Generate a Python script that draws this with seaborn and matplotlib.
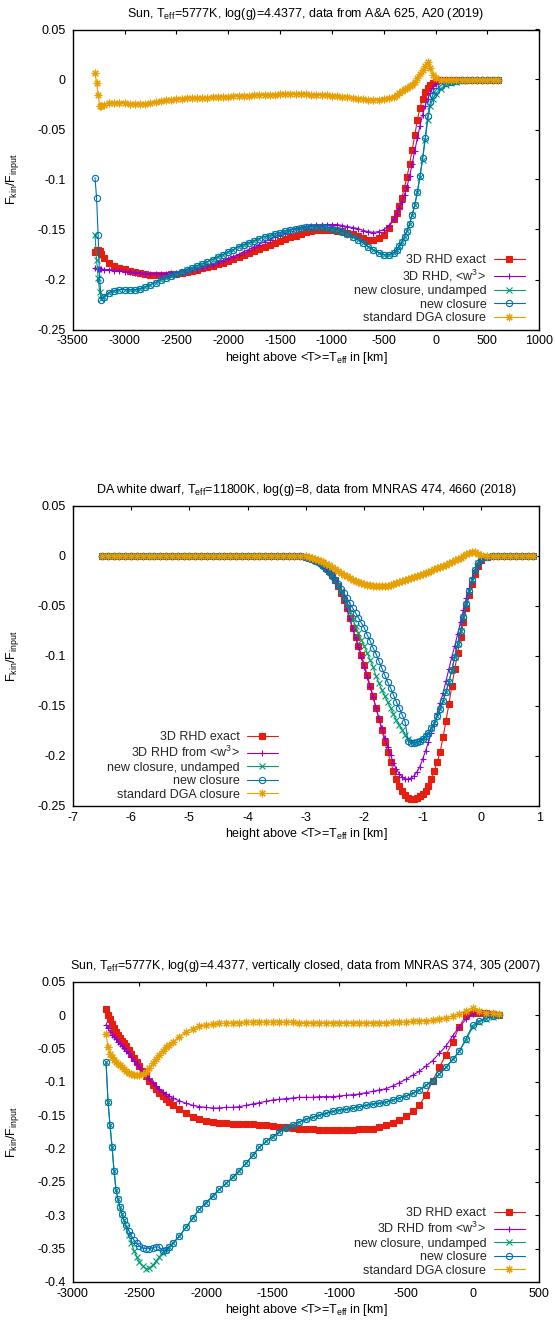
import matplotlib
matplotlib.use("Agg")
import matplotlib.pyplot as plt
import seaborn as sns
from matplotlib.ticker import FuncFormatter, MultipleLocator

# ---------------- Panel 1: Sun, A&A 625, A20 (2019) ----------------
x1 = [-3285, -3270, -3255, -3240, -3225,
      -3200, -3150, -3100, -3050, -3000, -2950, -2900, -2850, -2800, -2750,
      -2700, -2650, -2600, -2550, -2500, -2450, -2400, -2350, -2300, -2250,
      -2200, -2150, -2100, -2050, -2000, -1950, -1900, -1850, -1800, -1750,
      -1700, -1650, -1600, -1550, -1500, -1450, -1400, -1350, -1300, -1250,
      -1200, -1150, -1100, -1050, -1000, -950, -900, -850, -800, -750,
      -700, -650, -600, -550, -500, -450, -400,
      -375, -350, -325, -300, -275, -250, -225, -200, -175, -150, -125, -100, -75, -50, -25,
      0, 50, 100, 150, 200, 250, 300, 350, 400, 450, 500, 550, 600]
exact1 = [-0.172, -0.170, -0.170, -0.171, -0.174,
          -0.178, -0.183, -0.186, -0.188, -0.189, -0.191, -0.192, -0.193, -0.194, -0.195,
          -0.195, -0.195, -0.195, -0.194, -0.194, -0.193, -0.192, -0.191, -0.190, -0.188,
          -0.187, -0.186, -0.184, -0.183, -0.181, -0.179, -0.177, -0.175, -0.173, -0.171,
          -0.169, -0.167, -0.165, -0.163, -0.161, -0.159, -0.157, -0.156, -0.154, -0.152,
          -0.151, -0.150, -0.150, -0.150, -0.150, -0.151, -0.151, -0.153, -0.154, -0.156,
          -0.158, -0.160, -0.160, -0.158, -0.155, -0.148, -0.139,
          -0.133, -0.126, -0.118, -0.108, -0.097, -0.084, -0.070, -0.055, -0.040, -0.028, -0.019, -0.012, -0.008, -0.005, -0.003,
          -0.001, 0, 0, 0, 0, 0, 0, 0, 0, 0, 0, 0, 0]
w3_1 = [-0.188, -0.189, -0.189, -0.189, -0.189,
        -0.190, -0.190, -0.191, -0.191, -0.192, -0.192, -0.193, -0.193, -0.194, -0.194,
        -0.194, -0.194, -0.194, -0.193, -0.193, -0.192, -0.191, -0.190, -0.189, -0.188,
        -0.186, -0.185, -0.183, -0.181, -0.179, -0.177, -0.175, -0.172, -0.170, -0.167,
        -0.165, -0.162, -0.160, -0.157, -0.155, -0.153, -0.151, -0.149, -0.148, -0.147,
        -0.146, -0.145, -0.145, -0.145, -0.145, -0.145, -0.146, -0.147, -0.148, -0.149,
        -0.151, -0.152, -0.153, -0.152, -0.150, -0.146, -0.139,
        -0.134, -0.128, -0.122, -0.115, -0.107, -0.096, -0.084, -0.071, -0.058, -0.046, -0.035, -0.026, -0.019, -0.013, -0.008,
        -0.004, -0.001, 0, 0, 0, 0, 0, 0, 0, 0, 0, 0, 0]
undamped1 = [-0.155, -0.180, -0.198, -0.212, -0.219,
             -0.217, -0.213, -0.211, -0.210, -0.210, -0.210, -0.210, -0.209, -0.207, -0.205,
             -0.203, -0.200, -0.198, -0.196, -0.194, -0.192, -0.190, -0.188, -0.186, -0.184,
             -0.182, -0.180, -0.177, -0.175, -0.172, -0.170, -0.167, -0.165, -0.163, -0.161,
             -0.159, -0.157, -0.156, -0.154, -0.153, -0.151, -0.150, -0.149, -0.148, -0.147,
             -0.147, -0.147, -0.147, -0.148, -0.149, -0.150, -0.152, -0.154, -0.157, -0.160,
             -0.163, -0.167, -0.170, -0.173, -0.175, -0.175, -0.173,
             -0.170, -0.166, -0.162, -0.157, -0.151, -0.144, -0.135, -0.125, -0.112, -0.097, -0.080, -0.060, -0.040, -0.026, -0.019,
             -0.014, -0.009, -0.005, -0.003, -0.002, -0.001, 0, 0, 0, 0, 0, 0, 0]
newc1 = [-0.098, -0.118, -0.155, -0.200, -0.220,
         -0.217, -0.213, -0.211, -0.210, -0.210, -0.210, -0.210, -0.209, -0.207, -0.205,
         -0.203, -0.200, -0.198, -0.196, -0.194, -0.192, -0.190, -0.188, -0.186, -0.184,
         -0.182, -0.180, -0.177, -0.175, -0.172, -0.170, -0.167, -0.165, -0.163, -0.161,
         -0.159, -0.157, -0.156, -0.154, -0.153, -0.151, -0.150, -0.149, -0.148, -0.147,
         -0.147, -0.147, -0.147, -0.148, -0.149, -0.150, -0.152, -0.154, -0.157, -0.160,
         -0.163, -0.167, -0.170, -0.173, -0.175, -0.175, -0.173,
         -0.170, -0.166, -0.162, -0.157, -0.151, -0.144, -0.135, -0.125, -0.112, -0.096, -0.078, -0.058, -0.036, -0.022, -0.015,
         -0.011, -0.006, -0.003, -0.002, -0.001, 0, 0, 0, 0, 0, 0, 0, 0]
dga1 = [0.007, -0.003, -0.015, -0.026, -0.026,
        -0.025, -0.023, -0.023, -0.023, -0.023, -0.024, -0.024, -0.024, -0.024, -0.023,
        -0.022, -0.021, -0.020, -0.020, -0.019, -0.019, -0.018, -0.018, -0.018, -0.018,
        -0.018, -0.017, -0.017, -0.017, -0.017, -0.016, -0.016, -0.016, -0.016, -0.015,
        -0.015, -0.015, -0.015, -0.015, -0.014, -0.014, -0.014, -0.014, -0.014, -0.014,
        -0.015, -0.015, -0.015, -0.015, -0.016, -0.016, -0.017, -0.017, -0.018, -0.019,
        -0.019, -0.020, -0.020, -0.020, -0.019, -0.018, -0.017,
        -0.015, -0.013, -0.011, -0.009, -0.008, -0.006, -0.005, -0.002, 0.002, 0.006, 0.010, 0.014, 0.018, 0.012, 0.005,
        0.002, 0, 0, 0, 0, 0, 0, 0, 0, 0, 0, 0, 0]

# ---------------- Panel 2: DA white dwarf, MNRAS 474, 4660 (2018) ----------------
x2_flat = [-6.5, -6.4, -6.3, -6.2, -6.1, -6.0, -5.9, -5.8, -5.7, -5.6,
           -5.5, -5.4, -5.3, -5.2, -5.1, -5.0, -4.9, -4.8, -4.7, -4.6,
           -4.5, -4.4, -4.3, -4.2, -4.1, -4.0, -3.9, -3.8, -3.7, -3.6,
           -3.5, -3.4, -3.3, -3.2, -3.1]
y2_flat = [0, 0, 0, 0, 0, 0, 0, 0, 0, 0,
           0, 0, 0, 0, 0, 0, 0, 0, 0, 0,
           0, 0, 0, 0, 0, 0, 0, 0, 0, 0,
           0, 0, 0, 0, 0]
x2_dip = [-3.00, -2.95, -2.90, -2.85, -2.80, -2.75, -2.70, -2.65, -2.60, -2.55,
          -2.50, -2.45, -2.40, -2.35, -2.30, -2.25, -2.20, -2.15, -2.10, -2.05,
          -2.00, -1.95, -1.90, -1.85, -1.80, -1.75, -1.70, -1.65, -1.60, -1.55,
          -1.50, -1.45, -1.40, -1.35, -1.30, -1.25, -1.20, -1.15, -1.10, -1.05,
          -1.00, -0.95, -0.90, -0.85, -0.80, -0.75, -0.70, -0.65, -0.60, -0.55,
          -0.50, -0.45, -0.40, -0.35, -0.30, -0.25, -0.20, -0.15, -0.10, -0.05,
          0.00]
x2_tail = [0.1, 0.2, 0.3, 0.4, 0.5, 0.6, 0.7, 0.8, 0.9]
exact2_dip = [-0.001, -0.002, -0.003, -0.004, -0.005, -0.007, -0.009, -0.012, -0.015, -0.019,
              -0.024, -0.030, -0.037, -0.044, -0.052, -0.062, -0.072, -0.081, -0.090, -0.099,
              -0.109, -0.119, -0.130, -0.140, -0.152, -0.163, -0.174, -0.186, -0.196, -0.206,
              -0.215, -0.223, -0.230, -0.235, -0.239, -0.242, -0.243, -0.243, -0.242, -0.240,
              -0.238, -0.235, -0.230, -0.223, -0.215, -0.206, -0.196, -0.181, -0.165, -0.148,
              -0.130, -0.113, -0.097, -0.081, -0.066, -0.052, -0.039, -0.028, -0.018, -0.010,
              -0.004]
exact2_tail = [-0.001, 0, 0, 0, 0, 0, 0, 0, 0]
w3_2_dip = [-0.001, -0.002, -0.003, -0.004, -0.005, -0.007, -0.009, -0.012, -0.015, -0.019,
            -0.024, -0.030, -0.037, -0.045, -0.053, -0.063, -0.073, -0.082, -0.091, -0.101,
            -0.111, -0.121, -0.131, -0.141, -0.152, -0.162, -0.172, -0.182, -0.191, -0.199,
            -0.207, -0.213, -0.218, -0.221, -0.223, -0.223, -0.222, -0.220, -0.216, -0.211,
            -0.203, -0.195, -0.186, -0.177, -0.168, -0.157, -0.147, -0.137, -0.125, -0.113,
            -0.101, -0.090, -0.078, -0.066, -0.054, -0.042, -0.032, -0.022, -0.014, -0.008,
            -0.003]
w3_2_tail = [0, 0, 0, 0, 0, 0, 0, 0, 0]
undamped2_dip = [-0.001, -0.002, -0.003, -0.004, -0.005, -0.007, -0.009, -0.012, -0.015, -0.019,
                 -0.024, -0.029, -0.035, -0.042, -0.049, -0.056, -0.063, -0.070, -0.077, -0.084,
                 -0.090, -0.097, -0.104, -0.111, -0.120, -0.127, -0.134, -0.140, -0.146, -0.152,
                 -0.158, -0.164, -0.169, -0.174, -0.179, -0.183, -0.186, -0.187, -0.186, -0.185,
                 -0.183, -0.180, -0.177, -0.172, -0.167, -0.160, -0.153, -0.145, -0.136, -0.126,
                 -0.114, -0.101, -0.088, -0.075, -0.061, -0.048, -0.035, -0.024, -0.014, -0.007,
                 -0.003]
undamped2_tail = [-0.001, 0, 0, 0, 0, 0, 0, 0, 0]
newc2_dip = [-0.001, -0.002, -0.003, -0.005, -0.006, -0.008, -0.010, -0.013, -0.016, -0.020,
             -0.024, -0.028, -0.033, -0.037, -0.042, -0.047, -0.052, -0.057, -0.062, -0.067,
             -0.072, -0.079, -0.085, -0.092, -0.098, -0.105, -0.112, -0.119, -0.126, -0.132,
             -0.139, -0.146, -0.152, -0.159, -0.166, -0.185, -0.187, -0.187, -0.186, -0.185,
             -0.183, -0.180, -0.177, -0.172, -0.167, -0.160, -0.153, -0.145, -0.136, -0.126,
             -0.114, -0.101, -0.088, -0.075, -0.061, -0.048, -0.035, -0.024, -0.014, -0.007,
             -0.003]
newc2_tail = [-0.001, 0, 0, 0, 0, 0, 0, 0, 0]
dga2_dip = [0.000, -0.001, -0.002, -0.003, -0.004, -0.005, -0.006, -0.008, -0.009, -0.011,
            -0.013, -0.015, -0.017, -0.019, -0.020, -0.022, -0.024, -0.025, -0.026, -0.027,
            -0.028, -0.029, -0.029, -0.030, -0.030, -0.030, -0.030, -0.030, -0.030, -0.029,
            -0.028, -0.027, -0.026, -0.025, -0.024, -0.023, -0.022, -0.021, -0.020, -0.019,
            -0.018, -0.017, -0.016, -0.015, -0.013, -0.012, -0.011, -0.010, -0.009, -0.007,
            -0.006, -0.004, -0.003, -0.002, 0.000, 0.002, 0.003, 0.004, 0.004, 0.002,
            0.001]
dga2_tail = [0, 0, 0, 0, 0, 0, 0, 0, 0]

# ---------------- Panel 3: Sun, vertically closed, MNRAS 374, 305 (2007) ----------------
x3 = [-2750, -2735, -2720, -2705, -2690, -2675, -2660, -2645, -2630, -2615, -2600,
      -2580, -2560, -2540, -2520, -2500,
      -2475, -2450, -2425, -2400, -2375, -2350, -2325, -2300, -2275, -2250,
      -2200, -2150, -2100, -2050, -2000, -1950, -1900, -1850, -1800, -1750,
      -1700, -1650, -1600, -1550, -1500, -1450, -1400, -1350, -1300, -1250,
      -1200, -1150, -1100, -1050, -1000, -950, -900, -850, -800, -750,
      -700, -650, -600, -550, -500, -450, -400, -350, -300, -250,
      -200, -150, -100, -50, 0, 50, 100, 150, 200]
exact3 = [0.009, 0.001, -0.006, -0.013, -0.019, -0.025, -0.030, -0.034, -0.038, -0.042, -0.046,
          -0.052, -0.058, -0.064, -0.070, -0.076,
          -0.083, -0.091, -0.098, -0.105, -0.111, -0.116, -0.121, -0.126, -0.130, -0.134,
          -0.141, -0.147, -0.152, -0.155, -0.158, -0.160, -0.161, -0.162, -0.163, -0.163,
          -0.163, -0.163, -0.164, -0.165, -0.166, -0.167, -0.168, -0.169, -0.170, -0.171,
          -0.171, -0.172, -0.172, -0.172, -0.172, -0.172, -0.172, -0.171, -0.171, -0.170,
          -0.168, -0.165, -0.161, -0.157, -0.151, -0.144, -0.135, -0.119, -0.098, -0.078,
          -0.059, -0.040, -0.017, 0.000, 0.004, 0.004, 0.003, 0.002, 0.001]
w3_3 = [-0.014, -0.019, -0.025, -0.029, -0.033, -0.036, -0.040, -0.043, -0.046, -0.049, -0.053,
        -0.057, -0.063, -0.068, -0.073, -0.078,
        -0.084, -0.091, -0.096, -0.101, -0.106, -0.111, -0.115, -0.118, -0.121, -0.124,
        -0.128, -0.132, -0.135, -0.137, -0.138, -0.139, -0.139, -0.138, -0.138, -0.137,
        -0.135, -0.133, -0.131, -0.129, -0.127, -0.126, -0.125, -0.124, -0.123, -0.123,
        -0.123, -0.122, -0.122, -0.122, -0.121, -0.120, -0.119, -0.118, -0.116, -0.114,
        -0.112, -0.110, -0.106, -0.101, -0.096, -0.090, -0.084, -0.076, -0.068, -0.057,
        -0.046, -0.031, -0.017, -0.006, 0.002, 0.004, 0.004, 0.003, 0.002]
undamped3 = [-0.070, -0.130, -0.165, -0.197, -0.233, -0.262, -0.276, -0.288, -0.298, -0.307, -0.318,
             -0.330, -0.342, -0.353, -0.362, -0.370,
             -0.376, -0.380, -0.379, -0.375, -0.369, -0.362, -0.356, -0.352, -0.347, -0.342,
             -0.331, -0.318, -0.304, -0.291, -0.281, -0.271, -0.261, -0.252, -0.243, -0.233,
             -0.222, -0.210, -0.198, -0.189, -0.182, -0.175, -0.169, -0.164, -0.160, -0.156,
             -0.153, -0.150, -0.147, -0.144, -0.142, -0.141, -0.139, -0.137, -0.135, -0.133,
             -0.132, -0.130, -0.127, -0.124, -0.121, -0.117, -0.112, -0.105, -0.098, -0.088,
             -0.078, -0.066, -0.054, -0.037, -0.018, -0.010, -0.005, -0.002, 0.001]
newc3 = [-0.070, -0.130, -0.165, -0.197, -0.233, -0.262, -0.276, -0.288, -0.298, -0.307, -0.315,
         -0.323, -0.330, -0.337, -0.342, -0.346,
         -0.349, -0.350, -0.350, -0.349, -0.347, -0.348, -0.353, -0.352, -0.347, -0.342,
         -0.331, -0.318, -0.304, -0.291, -0.281, -0.271, -0.261, -0.252, -0.243, -0.233,
         -0.222, -0.210, -0.198, -0.189, -0.182, -0.175, -0.169, -0.164, -0.160, -0.156,
         -0.153, -0.150, -0.147, -0.144, -0.142, -0.141, -0.139, -0.137, -0.135, -0.133,
         -0.132, -0.130, -0.127, -0.124, -0.121, -0.117, -0.112, -0.105, -0.098, -0.088,
         -0.078, -0.066, -0.054, -0.035, -0.015, -0.008, -0.004, -0.001, 0.001]
dga3 = [-0.028, -0.048, -0.058, -0.063, -0.067, -0.070, -0.073, -0.075, -0.078, -0.081, -0.083,
        -0.086, -0.088, -0.089, -0.090, -0.090,
        -0.088, -0.085, -0.079, -0.072, -0.065, -0.059, -0.053, -0.048, -0.044, -0.040,
        -0.032, -0.025, -0.020, -0.016, -0.014, -0.013, -0.012, -0.012, -0.011, -0.011,
        -0.010, -0.010, -0.010, -0.010, -0.010, -0.010, -0.010, -0.010, -0.011, -0.011,
        -0.011, -0.011, -0.011, -0.011, -0.011, -0.011, -0.011, -0.011, -0.011, -0.011,
        -0.011, -0.011, -0.010, -0.010, -0.010, -0.009, -0.008, -0.008, -0.007, -0.005,
        -0.004, -0.001, 0.002, 0.007, 0.011, 0.007, 0.004, 0.003, 0.002]

labels1 = ["3D RHD exact", "3D RHD, <w$^3$>", "new closure, undamped",
           "new closure", "standard DGA closure"]
labels23 = ["3D RHD exact", "3D RHD from <w$^3$>", "new closure, undamped",
            "new closure", "standard DGA closure"]
titles = ["Sun, T$_{eff}$=5777K, log(g)=4.4377, data from A&A 625, A20 (2019)",
          "DA white dwarf, T$_{eff}$=11800K, log(g)=8, data from MNRAS 474, 4660 (2018)",
          "Sun, T$_{eff}$=5777K, log(g)=4.4377, vertically closed, data from MNRAS 374, 305 (2007)"]
xlabel = "height above <T>=T$_{eff}$ in [km]"
ylabel = "F$_{kin}$/F$_{input}$"

# ---------------- style ----------------
sns.set_theme(style="white")
plt.rcParams.update({
    "font.family": ["Liberation Sans", "DejaVu Sans"],
    "mathtext.fontset": "custom",
    "mathtext.rm": "Liberation Sans",
    "mathtext.it": "Liberation Sans:italic",
    "mathtext.bf": "Liberation Sans:bold",
    "mathtext.default": "regular",
    "axes.unicode_minus": False,
})
FS = 9

STYLES = [
    dict(color="#e51e10", marker="s", ms=4.0, mfc="#e51e10"),
    dict(color="#9400d3", marker="+", ms=5.0, mfc="none"),
    dict(color="#009e73", marker="x", ms=4.2, mfc="none"),
    dict(color="#0072b2", marker="o", ms=4.5, mfc="none"),
    dict(color="#e69f00", marker=(8, 2, 0), ms=5.5, mfc="none"),
]


def fmt(v, pos):
    if abs(v) < 1e-9:
        return "0"
    return "%g" % round(v, 6)


fig = plt.figure(figsize=(5.55, 13.24), dpi=100)
L, W, H = 0.131, 0.8407, 300 / 1324
bottoms = [(1324 - 329.5) / 1324, (1324 - 806) / 1324, (1324 - 1282) / 1324]

x2 = x2_flat + x2_dip + x2_tail
panels = [
    dict(x=x1, ys=[exact1, w3_1, undamped1, newc1, dga1], labels=labels1,
         xlim=(-3500, 1000), ylim=(-0.25, 0.05), xstep=500, anchor=(0.969, 0.018)),
    dict(x=x2, ys=[y2_flat + exact2_dip + exact2_tail,
                   y2_flat + w3_2_dip + w3_2_tail,
                   y2_flat + undamped2_dip + undamped2_tail,
                   y2_flat + newc2_dip + newc2_tail,
                   y2_flat + dga2_dip + dga2_tail], labels=labels23,
         xlim=(-7, 1), ylim=(-0.25, 0.05), xstep=1, anchor=(0.44, 0.018)),
    dict(x=x3, ys=[exact3, w3_3, undamped3, newc3, dga3], labels=labels23,
         xlim=(-3000, 500), ylim=(-0.4, 0.05), xstep=500, anchor=(0.969, 0.018)),
]

for i, p in enumerate(panels):
    ax = fig.add_axes([L, bottoms[i], W, H])
    for y, lab, st in zip(p["ys"], p["labels"], STYLES):
        assert len(y) == len(p["x"]), (i, lab, len(y), len(p["x"]))
        sns.lineplot(x=p["x"], y=y, ax=ax, color=st["color"], marker=st["marker"],
                     markersize=st["ms"], markeredgecolor=st["color"],
                     markerfacecolor=st["mfc"], markeredgewidth=0.8, linewidth=0.8,
                     estimator=None, sort=False, label=lab, legend=False)
    ax.set_xlim(*p["xlim"])
    ax.set_ylim(*p["ylim"])
    ax.xaxis.set_major_locator(MultipleLocator(p["xstep"]))
    ax.yaxis.set_major_locator(MultipleLocator(0.05))
    ax.xaxis.set_major_formatter(FuncFormatter(fmt))
    ax.yaxis.set_major_formatter(FuncFormatter(fmt))
    ax.tick_params(direction="in", top=True, right=True, length=3.2, width=0.8,
                   labelsize=FS, colors="black")
    ax.tick_params(axis="y", pad=5)
    ax.tick_params(axis="x", pad=4)
    for s in ax.spines.values():
        s.set_color("black")
        s.set_linewidth(1.0)
    ax.set_title(titles[i], fontsize=FS, pad=9, color="black")
    ax.set_xlabel(xlabel, fontsize=FS, color="black")
    ax.set_ylabel(ylabel, fontsize=FS, color="black")
    ax.xaxis.set_label_coords(0.5, -0.068)
    ax.yaxis.set_label_coords(-0.111, 0.5)
    ax.xaxis.label.set_va("top")
    ax.legend(loc="lower right", bbox_to_anchor=p["anchor"], markerfirst=False,
              frameon=False, fontsize=FS, handlelength=2.5, handletextpad=0.58,
              labelspacing=0.12, borderpad=0, borderaxespad=0, numpoints=1)

fig.savefig("out.png", dpi=100)
